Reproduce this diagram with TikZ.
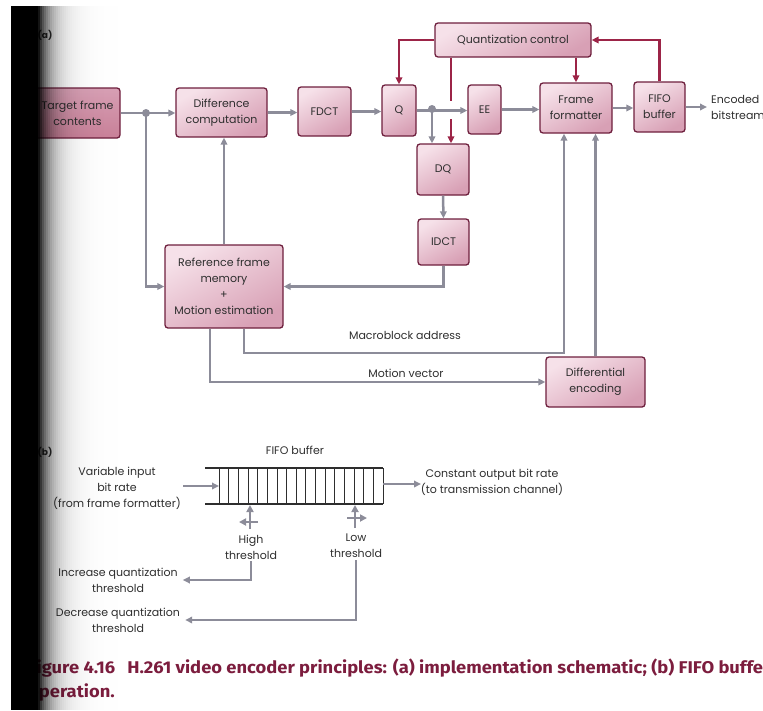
\documentclass[tikz,border=0pt]{standalone}
\usepackage{fontspec}
\setmainfont{Poppins}
\newfontfamily\capfont{Fira Sans}[FakeStretch=1.08]
\usetikzlibrary{arrows.meta}
\definecolor{edge}{HTML}{6E1F3D}
\definecolor{boxlite}{HTML}{F6E1E9}
\definecolor{boxdark}{HTML}{D8A0B5}
\definecolor{boxdeep}{HTML}{C98199}
\definecolor{flowgray}{HTML}{8C8C99}
\definecolor{ctrlred}{HTML}{9C2447}
\definecolor{capred}{HTML}{7C1D3E}
\definecolor{ink}{HTML}{2E2E2E}

\begin{document}
\begin{tikzpicture}[x=1pt,y=-1pt,font=\fontsize{11}{16}\selectfont,
  >={Triangle[length=7pt,width=6.5pt]},
  blk/.style={draw=edge,line width=1.3pt,rounded corners=3pt,top color=boxlite,
    bottom color=boxdark,shading angle=30,align=center,inner sep=1pt,text=ink},
  flow/.style={flowgray,line width=2.5pt,->},
  ctrl/.style={ctrlred,line width=2.5pt,->},
  thrmark/.style={flowgray,line width=2.6pt,-{Triangle[length=7pt,width=7pt]}},
  lbl/.style={align=center,text=ink,inner sep=0pt}]
  \useasboundingbox (0,0) rectangle (763,710);

  % (a) implementation schematic
  \node[font=\bfseries\small,text=ink] (parta) at (45,35) {(a)};
  \node[blk,minimum width=85pt,minimum height=50pt,top color=boxdark,bottom color=boxdeep] (target) at (77.5,113) {Target frame\\contents};
  \node[blk,minimum width=91pt,minimum height=49pt] (diff) at (221.5,112.5) {Difference\\computation};
  \node[blk,minimum width=53pt,minimum height=49pt] (fdct) at (324.5,111.5) {FDCT};
  \node[blk,minimum width=34pt,minimum height=51pt] (quant) at (399,110.5) {Q};
  \node[blk,minimum width=156pt,minimum height=34pt] (qctrl) at (513,40) {Quantization control};
  \node[blk,minimum width=33pt,minimum height=49pt] (ee) at (484.5,109.5) {EE};
  \node[blk,minimum width=72pt,minimum height=50pt] (ffmt) at (576,108) {Frame\\formatter};
  \node[blk,minimum width=51pt,minimum height=50pt] (fifo) at (659.5,107) {FIFO\\buffer};
  \node[blk,minimum width=52pt,minimum height=51pt] (dequant) at (443,169.5) {DQ};
  \node[blk,minimum width=51pt,minimum height=46pt] (idct) at (443.5,242) {IDCT};
  \node[blk,minimum width=118pt,minimum height=83pt] (refmem) at (224,286.5)
    {Reference frame\\memory\\+\\Motion estimation};
  \node[blk,minimum width=99pt,minimum height=50pt] (diffenc) at (595.5,382) {Differential\\encoding};
  \node[lbl,anchor=west,align=left] (encout) at (711,107) {Encoded\\bitstream};
  \node[lbl] (mbaddr) at (405,335) {Macroblock address};
  \node[lbl] (mvec) at (406,373) {Motion vector};

  \coordinate (split) at (146,113);
  \coordinate (qsplit) at (432,109);
  \coordinate (mbturn) at (564,353);
  \coordinate (gaptop) at (451,101);
  \coordinate (gapbot) at (451,119);

  \draw[flow] (target.east) -- (target.east -| diff.west);
  \fill[flowgray] (split) circle (4pt);
  \draw[flow] (split) |- (refmem.west);
  \draw[flow] (refmem.north) -- (refmem.north |- diff.south);
  \draw[flow] (diff.east) -- (diff.east -| fdct.west);
  \draw[flow] (fdct.east) -- (fdct.east -| quant.west);
  \draw[flow] (quant.east) -- (quant.east -| ee.west);
  \fill[flowgray] (qsplit) circle (4pt);
  \draw[flow] (qsplit) -- (qsplit |- dequant.north);
  \draw[flow] (ee.east) -- (ee.east -| ffmt.west);
  \draw[flow] (ffmt.east) -- (ffmt.east -| fifo.west);
  \draw[flow,shorten >=4pt] (fifo.east) -- (fifo.east -| encout.west);
  \draw[flow] (dequant.south) -- (idct.north);
  \draw[flow] (idct.south) |- (refmem.east);
  \draw[flow] ([xshift=20pt]refmem.south) |- (mbturn) -- (mbturn |- ffmt.south);
  \draw[flow] ([xshift=-14pt]refmem.south) |- (diffenc.west);
  \draw[flow] (diffenc.north) -- (diffenc.north |- ffmt.south);

  \draw[ctrl] (qctrl.west) -| (quant.north);
  \draw[ctrlred,line width=2.5pt] (qctrl.south -| gaptop) -- (gaptop);
  \draw[ctrl] (gapbot) -- (gapbot |- dequant.north);
  \draw[ctrl] (qctrl.south -| ffmt.north) -- (ffmt.north);
  \draw[ctrl] (fifo.north) |- (qctrl.east);

  % (b) FIFO buffer operation
  \node[font=\bfseries\small,text=ink] (partb) at (45,452) {(b)};
  \node[lbl] (buflbl) at (295,450) {FIFO buffer};
  \draw[ink,line width=1.1pt] (205,468) -- (383,468) (205,504) -- (383,504);
  \foreach \i in {0,...,17}
    \draw[ink,line width=0.8pt] ({219+\i*9.65},468) -- ({219+\i*9.65},504);
  \coordinate (bufin) at (219,486);
  \coordinate (ratein) at (183,486);
  \coordinate (bufout) at (383,484);
  \coordinate (rateout) at (421,484);
  \draw[flow] (ratein) -- (bufin);
  \draw[flow] (bufout) -- (rateout);
  \node[lbl] (varin) at (117,488) {Variable input\\bit rate\\(from frame formatter)};
  \node[lbl] (constout) at (492,482) {Constant output bit rate\\(to transmission channel)};

  \draw[thrmark] (250,529) -- (250,505);
  \draw[thrmark] (258,522) -- (239,522);
  \draw[thrmark] (355,528) -- (355,505);
  \draw[thrmark] (347,518) -- (367,518);
  \node[lbl] (hithr) at (251,547) {High\\threshold};
  \node[lbl] (lothr) at (356,546) {Low\\threshold};
  \node[lbl] (incq) at (118,580) {Increase quantization\\threshold};
  \node[lbl] (decq) at (118,620) {Decrease quantization\\threshold};
  \draw[flow,shorten >=5pt] ([yshift=-2pt]hithr.south) |- (incq.east);
  \draw[flow,shorten >=5pt] ([yshift=-2pt]lothr.south) |- (decq.east);

  % caption
  \node[anchor=base west,inner sep=0pt,text=capred,font=\capfont\bfseries\fontsize{17}{25}\selectfont] (cap1) at (28,673)
    {Figure 4.16\hspace{12pt}H.261 video encoder principles: (a) implementation schematic; (b) FIFO buffer};
  \node[anchor=base west,inner sep=0pt,text=capred,font=\capfont\bfseries\fontsize{17}{25}\selectfont] (cap2) at (28,697)
    {operation.};

  % page shadow of the scan
  \fill[black] (11,6) rectangle (38,710);
  \foreach \k in {0,...,39}{
    \pgfmathsetmacro\shadeop{0.92*exp(-\k/6.5)}
    \fill[black,fill opacity=\shadeop] ({38+2*\k},6) rectangle ({40+2*\k},710);
  }
\end{tikzpicture}
\end{document}
